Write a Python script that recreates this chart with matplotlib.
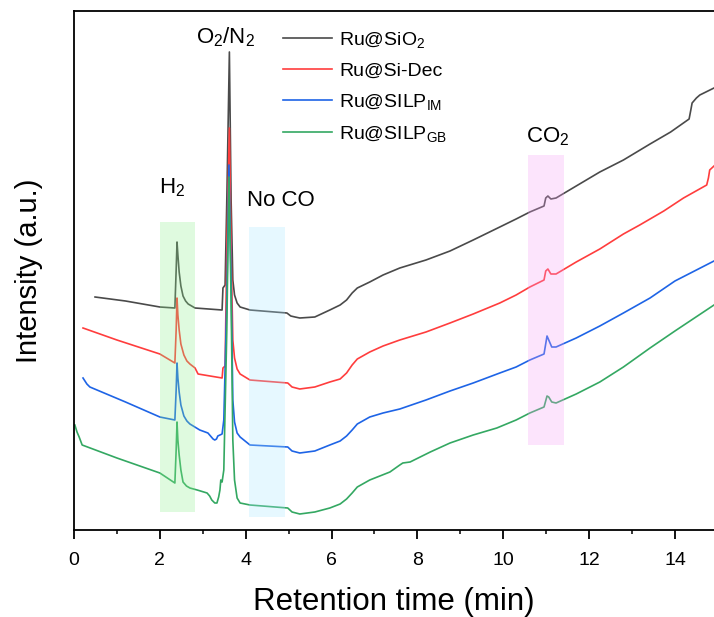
import matplotlib
matplotlib.use('Agg')
import matplotlib.pyplot as plt
from matplotlib.ticker import MultipleLocator

plt.rcParams['font.family'] = ['Liberation Sans', 'DejaVu Sans']
plt.rcParams['mathtext.fontset'] = 'custom'
plt.rcParams['mathtext.rm'] = 'Liberation Sans'
plt.rcParams['mathtext.it'] = 'Liberation Sans'

x_sio2 = [0.49, 1.20, 2.00, 2.35, 2.38, 2.40, 2.42, 2.45, 2.49, 2.54, 2.60, 2.66, 2.82,
          3.45, 3.47, 3.52, 3.56, 3.62, 3.66, 3.70, 3.74, 3.80, 3.87, 4.10, 4.96, 5.05,
          5.15, 5.26, 5.61, 5.96, 6.20, 6.35, 6.48, 6.60, 6.89, 7.20, 7.59, 8.20, 8.76,
          9.30, 9.92, 10.30, 10.62, 10.95, 10.99, 11.04, 11.11, 11.23, 11.70, 12.25,
          12.80, 13.42, 13.90, 14.33, 14.37, 14.40, 14.50, 14.58, 14.91]
y_sio2 = [233, 229, 223, 222, 260, 288, 275, 258, 244, 234, 229, 226, 222,
          220, 242, 245, 330, 478, 330, 250, 235, 227, 223, 220, 217, 214,
          213, 212, 213, 220, 225, 230, 237, 242, 248, 255, 262, 270, 279,
          290, 303, 311, 318, 324, 332, 334, 331, 332, 344, 358,
          370, 386, 398, 411, 420, 427, 432, 435, 442]

x_sidec = [0.21, 1.00, 2.00, 2.35, 2.38, 2.40, 2.42, 2.45, 2.49, 2.56, 2.63, 2.70, 2.82,
           2.89, 3.45, 3.47, 3.52, 3.56, 3.62, 3.66, 3.70, 3.74, 3.80, 3.87, 4.10, 4.98,
           5.08, 5.26, 5.61, 5.96, 6.20, 6.35, 6.48, 6.60, 6.89, 7.20, 7.59, 8.20, 8.76,
           9.30, 9.92, 10.30, 10.62, 10.95, 10.99, 11.04, 11.11, 11.23, 11.70, 12.25,
           12.80, 13.18, 13.74, 14.20, 14.74, 14.78, 14.81, 14.91]
y_sidec = [202, 190, 176, 167, 200, 232, 215, 200, 186, 175, 169, 166, 162,
           156, 152, 162, 164, 280, 402, 280, 190, 172, 161, 156, 150, 147,
           143, 141, 143, 148, 151, 157, 165, 171, 178, 184, 190, 198, 207,
           216, 227, 235, 243, 250, 259, 261, 256, 256, 268, 281,
           296, 305, 319, 332, 345, 352, 360, 364]

x_im = [0.21, 0.30, 0.37, 1.20, 2.00, 2.35, 2.38, 2.40, 2.42, 2.45, 2.49, 2.56, 2.63,
        2.70, 2.93, 3.12, 3.18, 3.24, 3.28, 3.32, 3.35, 3.45, 3.49, 3.56, 3.61, 3.66,
        3.70, 3.74, 3.80, 3.87, 4.10, 4.98, 5.08, 5.26, 5.61, 5.96, 6.20, 6.35, 6.48,
        6.60, 6.89, 7.20, 7.59, 8.20, 8.76, 9.30, 9.92, 10.30, 10.62, 10.95, 11.02,
        11.06, 11.13, 11.23, 11.70, 12.25, 12.80, 13.42, 14.00, 14.91]
y_im = [152, 146, 143, 128, 113, 110, 140, 167, 152, 138, 125, 114, 109,
        106, 100, 97, 94, 91, 90, 91, 94, 96, 110, 230, 365, 250,
        130, 108, 97, 93, 85, 83, 79, 77, 79, 85, 89, 94, 100,
        106, 113, 117, 121, 130, 139, 147, 157, 163, 170, 176, 194,
        190, 183, 183, 192, 204, 217, 232, 249, 269]

x_gb = [0.02, 0.07, 0.12, 0.19, 1.00, 2.00, 2.35, 2.38, 2.40, 2.42, 2.45, 2.49, 2.54,
        2.62, 2.70, 2.87, 3.10, 3.16, 3.21, 3.28, 3.33, 3.37, 3.40, 3.42, 3.45, 3.49,
        3.56, 3.61, 3.66, 3.70, 3.74, 3.80, 3.87, 4.10, 4.98, 5.08, 5.26, 5.61, 5.96,
        6.20, 6.35, 6.48, 6.60, 6.89, 7.36, 7.59, 7.66, 7.83, 8.30, 8.76, 9.30, 9.85,
        10.30, 10.62, 10.95, 11.02, 11.06, 11.13, 11.23, 11.70, 12.25, 12.80, 13.42,
        14.00, 14.91]
y_gb = [105, 98, 93, 85, 72, 57, 47, 80, 108, 90, 75, 60, 48,
        44, 42, 40, 37, 34, 30, 27, 27, 33, 40, 50, 48, 60,
        200, 353, 230, 90, 50, 32, 27, 25, 22, 18, 16, 18, 22,
        26, 31, 37, 43, 50, 58, 65, 67, 68, 78, 87, 95, 102,
        110, 117, 123, 134, 133, 128, 127, 136, 148, 163, 182,
        199, 225]

series = [(x_sio2, y_sio2, '#4a4a4a', 'Ru@SiO$_2$'),
          (x_sidec, y_sidec, '#ff3d3d', 'Ru@Si-Dec'),
          (x_im, y_im, '#1e64e6', 'Ru@SILP$_{\\mathrm{IM}}$'),
          (x_gb, y_gb, '#34a862', 'Ru@SILP$_{\\mathrm{GB}}$')]

# highlighted windows (x from, x to, y from, y to, colour)
boxes = [(2.00, 2.82, 18, 308, '#8cf08c'),
         (4.07, 4.91, 13, 303, '#a8e6ff'),
         (10.58, 11.41, 85, 375, '#f5a0f5')]

labels = [(3.52, 493, 'O$_2$/N$_2$'),
          (2.28, 342, 'H$_2$'),
          (4.82, 330, 'No CO'),
          (11.04, 393, 'CO$_2$')]

fig = plt.figure(figsize=(7.14, 6.17), dpi=100)
ax = fig.add_axes([74/714, 87/617, 640/714, 519/617])

for xs, ys, c, lab in series:
    ax.plot(xs, ys, color=c, lw=1.2, label=lab, zorder=2,
            solid_joinstyle='round')

for x0, x1, y0, y1, c in boxes:
    ax.fill_between([x0, x1], y0, y1, color=c, alpha=0.28, lw=0, zorder=3)

for tx, ty, s in labels:
    ax.text(tx, ty, s, fontsize=16, ha='center', va='center')

ax.set_xlim(0, 14.91)
ax.set_ylim(0, 519)
ax.xaxis.set_major_locator(MultipleLocator(2))
ax.xaxis.set_minor_locator(MultipleLocator(1))
ax.tick_params(axis='x', which='major', direction='out', length=6.5, width=1.3,
               labelsize=14, pad=9)
ax.tick_params(axis='x', which='minor', direction='out', length=3.2, width=1.1)
ax.set_yticks([])
ax.spines['right'].set_visible(False)
for s in ['left', 'top', 'bottom']:
    ax.spines[s].set_linewidth(1.3)

ax.set_xlabel('Retention time (min)', fontsize=22.5, labelpad=13)
ax.set_ylabel('Intensity (a.u.)', fontsize=21, labelpad=22)

ax.legend(loc='upper left', bbox_to_anchor=(0.314, 0.978), frameon=False, fontsize=14,
          handlelength=2.55, handletextpad=0.35, labelspacing=0.62, borderaxespad=0)

fig.savefig('out.png', dpi=100)
